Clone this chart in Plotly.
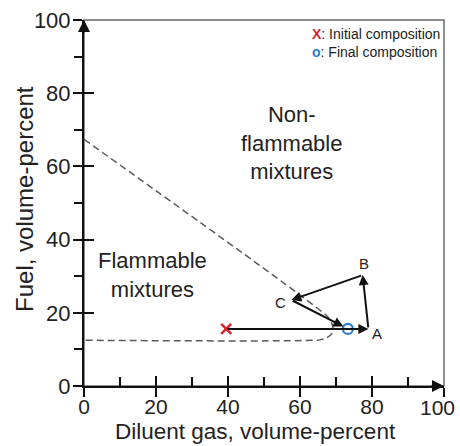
import plotly.graph_objects as go

# ---------------- data ----------------
x_ticks = [0, 20, 40, 60, 80, 100]
y_ticks = [0, 20, 40, 60, 80, 100]
x_ticklabels = ["0", "20", "40", "60", "80", "100"]
y_ticklabels = ["0", "20", "40", "60", "80", "100"]

# flammability envelope boundary (dashed)
boundary_x = [0, 67.5, 68.7, 69.2, 68.7, 67.3, 65.5, 0]
boundary_y = [67.4, 19.1, 17.4, 15.6, 14.1, 13.1, 12.6, 12.5]

initial_x, initial_y = [39.5], [15.6]
final_x, final_y = [73.3], [15.6]

path_names = ["A", "B", "C"]
path_x = [79.0, 77.4, 57.6]
path_y = [15.6, 30.3, 23.5]

region_labels = ["Non-<br>flammable<br>mixtures", "Flammable<br>mixtures"]
region_x = [57.5, 19.1]
region_y = [66.4, 30.3]

x_title = "Diluent gas, volume-percent"
y_title = "Fuel, volume-percent"

# ---------------- style ----------------
FONT = "Liberation Sans, Arial, Helvetica, sans-serif"
TXT = "#222222"
RED = "#d9232d"
BLUE = "#2a7fd4"
label_shift = {"A": (9, -5), "B": (1, 12), "C": (-11, -3)}

fig = go.Figure()

fig.add_trace(go.Scatter(
    x=boundary_x, y=boundary_y, mode="lines",
    line=dict(color="#5a5a5a", width=1.5, dash="7px,4px", shape="spline", smoothing=0.6),
    hoverinfo="skip", showlegend=False))

fig.add_trace(go.Scatter(
    x=initial_x, y=initial_y, mode="markers",
    marker=dict(symbol="x-thin", size=10, color=RED, line=dict(color=RED, width=2.5)),
    showlegend=False))
fig.add_trace(go.Scatter(
    x=final_x, y=final_y, mode="markers",
    marker=dict(symbol="circle-open", size=10, color=BLUE, line=dict(color=BLUE, width=2.2)),
    showlegend=False))

# dummy traces for overlay axes (crossing major ticks, end label)
fig.add_trace(go.Scatter(x=[None], y=[None], xaxis="x2", yaxis="y2",
                         showlegend=False, hoverinfo="skip"))
fig.add_trace(go.Scatter(x=[None], y=[None], xaxis="x3", yaxis="y",
                         showlegend=False, hoverinfo="skip"))

annotations = []
# path arrows
wx = initial_x + path_x + final_x
wy = initial_y + path_y + final_y
for i in range(len(wx) - 1):
    annotations.append(dict(
        x=wx[i + 1], y=wy[i + 1], ax=wx[i], ay=wy[i],
        xref="x", yref="y", axref="x", ayref="y",
        text="", showarrow=True, arrowhead=2, arrowsize=1.0, arrowwidth=2,
        arrowcolor="#111111", standoff=5 if i == len(wx) - 2 else 0))
# point labels
for n, px, py in zip(path_names, path_x, path_y):
    dx, dy = label_shift[n]
    annotations.append(dict(x=px, y=py, xref="x", yref="y", text=n, showarrow=False,
                            xshift=dx, yshift=dy, font=dict(family=FONT, size=15, color=TXT)))
# region labels
for t, rx, ry in zip(region_labels, region_x, region_y):
    annotations.append(dict(x=rx, y=ry, xref="x", yref="y", text=t, showarrow=False,
                            align="center", font=dict(family=FONT, size=22, color=TXT)))
# axis-end arrowheads
annotations.append(dict(x=100, y=0, xref="x", yref="y", ax=-14, ay=0, text="",
                        showarrow=True, arrowhead=2, arrowsize=1.2, arrowwidth=2,
                        arrowcolor="#111111"))
annotations.append(dict(x=0, y=100, xref="x", yref="y", ax=0, ay=14, text="",
                        showarrow=True, arrowhead=2, arrowsize=1.2, arrowwidth=2,
                        arrowcolor="#111111"))
# legend text
annotations.append(dict(
    x=0.995, y=0.99, xref="paper", yref="paper", xanchor="right", yanchor="top",
    align="left", showarrow=False,
    text="<span style='color:%s'><b>X</b></span>: Initial composition<br>"
         "<span style='color:%s'><b>o</b></span>: Final composition" % (RED, BLUE),
    font=dict(family=FONT, size=14, color=TXT)))
# axis titles
annotations.append(dict(x=0.475, y=-0.123, xref="paper", yref="paper",
                        xanchor="center", yanchor="middle", showarrow=False,
                        text=x_title, font=dict(family=FONT, size=22.5, color=TXT)))
annotations.append(dict(x=-0.165, y=0.51, xref="paper", yref="paper",
                        xanchor="center", yanchor="middle", showarrow=False, textangle=-90,
                        text=y_title, font=dict(family=FONT, size=24, color=TXT)))

tickfont = dict(family=FONT, size=21, color=TXT)
common = dict(range=[0, 100], showgrid=False, zeroline=False, fixedrange=True,
              automargin=False)

fig.update_layout(
    width=460, height=446,
    margin=dict(l=84, r=16, t=20, b=60, autoexpand=False),
    paper_bgcolor="white", plot_bgcolor="white",
    annotations=annotations,
    shapes=[dict(type="rect", xref="paper", yref="paper", x0=0, x1=1, y0=0, y1=1,
                 line=dict(color="#6a6a6a", width=1.5), layer="below")],
    xaxis=dict(**common, tickmode="array", tickvals=x_ticks,
               ticktext=x_ticklabels[:-1] + [""],
               showline=True, linecolor="#111111", linewidth=2,
               ticks="outside", ticklen=9, tickwidth=1.8, tickcolor="#111111",
               minor=dict(ticks="inside", ticklen=9, tickwidth=1.6, tickcolor="#111111",
                          tickvals=[10, 30, 50, 70, 90], showgrid=False),
               tickfont=tickfont, ticklabeloverflow="allow", ticklabelstandoff=-8),
    xaxis3=dict(**common, overlaying="x", anchor="y", side="bottom", tickmode="array",
                tickvals=x_ticks[-1:], ticktext=x_ticklabels[-1:], ticks="",
                showline=False, tickfont=tickfont, ticklabeloverflow="allow",
                ticklabelposition="outside left", ticklabelshift=11,
                ticklabelstandoff=7),
    yaxis=dict(**common, tickmode="array", tickvals=y_ticks, ticktext=y_ticklabels,
               showline=True, linecolor="#111111", linewidth=2,
               ticks="outside", ticklen=9, tickwidth=1.8, tickcolor="#111111",
               minor=dict(ticks="outside", ticklen=8, tickwidth=1.6, tickcolor="#111111",
                          tickvals=[10, 30, 50, 70, 90], showgrid=False),
               tickfont=dict(family=FONT, size=22, color=TXT),
               ticklabeloverflow="allow", ticklabelstandoff=-2),
    xaxis2=dict(**common, overlaying="x", anchor="y", side="bottom", tickmode="array",
                tickvals=x_ticks, ticks="inside", ticklen=10, tickwidth=1.8,
                tickcolor="#111111", showticklabels=False, showline=False),
    yaxis2=dict(**common, overlaying="y", anchor="x", side="left", tickmode="array",
                tickvals=y_ticks, ticks="inside", ticklen=10, tickwidth=1.8,
                tickcolor="#111111", showticklabels=False, showline=False),
    showlegend=False,
)

fig.write_html("out.html")
